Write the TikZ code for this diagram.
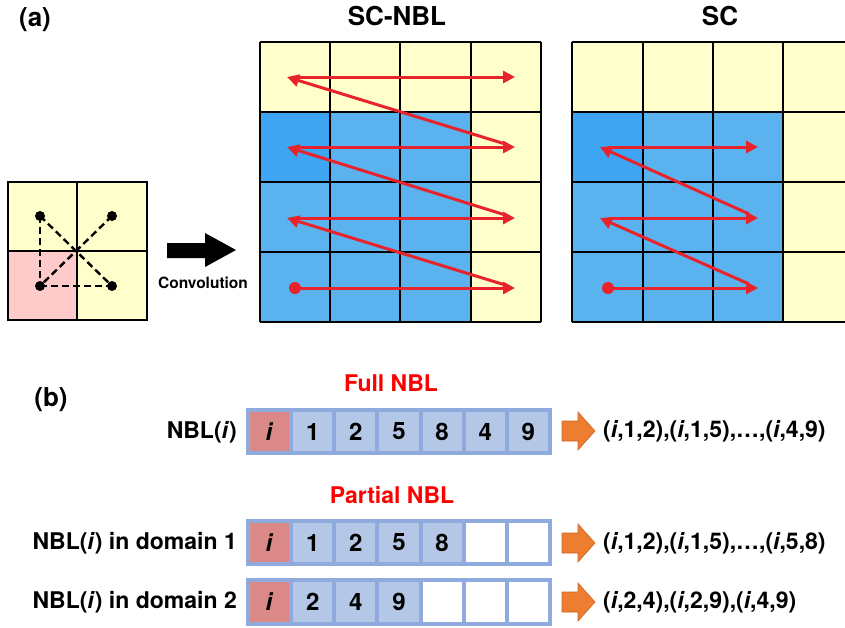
\documentclass[tikz,border=0pt]{standalone}
\usepackage{fontspec}
\setmainfont{TeX Gyre Heros}
\usetikzlibrary{arrows.meta}
\definecolor{cyel}{HTML}{FFFFCC}
\definecolor{cblue}{HTML}{5AB3EE}
\definecolor{cdblue}{HTML}{3DA5F2}
\definecolor{cred}{HTML}{E8232B}
\definecolor{cpinkgrid}{HTML}{FFCACA}
\definecolor{cbord}{HTML}{8FAADC}
\definecolor{ccell}{HTML}{B4C7E7}
\definecolor{cicell}{HTML}{DA8888}
\definecolor{corange}{HTML}{ED7D31}
\definecolor{corangeD}{HTML}{C9661E}
\begin{document}
\begin{tikzpicture}[x=1pt,y=-1pt,
  lab/.style={font=\fontsize{23}{27}\selectfont\bfseries, inner sep=0pt},
  ttl/.style={font=\fontsize{26}{30}\selectfont\bfseries, inner sep=0pt},
  redlab/.style={lab, text=red},
  gridline/.style={draw=black, line width=1.3pt},
  rarr/.style={draw=cred, line width=3pt, -{Triangle[length=12pt,width=12pt]}},
  dashline/.style={draw=black, line width=2.4pt, dash pattern=on 7pt off 4pt},
  celltxt/.style={font=\fontsize{24}{28}\selectfont\bfseries, inner sep=0pt},
  barcell/.style={draw=cbord, line width=4pt},
  orarr/.style={fill=corange, draw=corangeD, line width=0.6pt}
]
\useasboundingbox (0,0) rectangle (845,627);
\clip (0,0) rectangle (845,627);

% ---------- titles ----------
\node[ttl] (ta) at (35,20) {(a)};
\node[ttl] (tb) at (51,400) {(b)};
\node[ttl] (tscnbl) at (397,16) {SC-NBL};
\node[ttl] (tsc) at (720,16) {SC};

% ---------- small grid ----------
\fill[cyel] (8,182) rectangle (147,320);
\fill[cpinkgrid] (8,251) rectangle (77,320);
\draw[gridline] (8,182) rectangle (147,320);
\draw[gridline] (77,182) -- (77,320);
\draw[gridline] (8,251) -- (147,251);
\coordinate (p1) at (40,216);
\coordinate (p2) at (112,216);
\coordinate (p3) at (40,286);
\coordinate (p4) at (112,286);
\draw[dashline] (p1) -- (p3);
\draw[dashline] (p3) -- (p4);
\draw[dashline] (p1) -- (p4);
\draw[dashline] (p2) -- (p3);
\foreach \p in {p1,p2,p3,p4} \fill[black] (\p) circle (5pt);

% ---------- black arrow ----------
\fill[black] (167,243) -- (205,243) -- (205,233) -- (236,250) -- (205,267) -- (205,258) -- (167,258) -- cycle;
\node[font=\fontsize{15.5}{18}\selectfont\bfseries, inner sep=0pt] (conv) at (203,283) {Convolution};

% ---------- SC-NBL grid ----------
\fill[cyel] (260,42) rectangle (541,322);
\fill[cblue] (260,112) rectangle (471,322);
\fill[cdblue] (260,112) rectangle (330,182);
\foreach \x in {260,330,400,471,541} \draw[gridline] (\x,42) -- (\x,322);
\foreach \y in {42,112,182,252,322} \draw[gridline] (260,\y) -- (541,\y);

\coordinate (aL1) at (287,77);  \coordinate (aR1) at (515,77);
\coordinate (aL2) at (287,147); \coordinate (aR2) at (515,147);
\coordinate (aL3) at (287,218); \coordinate (aR3) at (515,218);
\coordinate (aR4) at (515,288); \coordinate (aS) at (295,288);
\fill[cred] (aS) circle (6pt);
\draw[rarr] (aS) -- (aR4);
\draw[rarr, shorten <=10pt] (aR4) -- (aL3);
\draw[rarr, shorten <=8pt] (aL3) -- (aR3);
\draw[rarr, shorten <=10pt] (aR3) -- (aL2);
\draw[rarr, shorten <=8pt] (aL2) -- (aR2);
\draw[rarr, shorten <=10pt] (aR2) -- (aL1);
\draw[rarr, shorten <=8pt] (aL1) -- (aR1);

% ---------- SC grid ----------
\fill[cyel] (572,42) rectangle (853,322);
\fill[cblue] (572,112) rectangle (783,322);
\fill[cdblue] (572,112) rectangle (643,182);
\foreach \x in {572,643,713,783,853} \draw[gridline] (\x,42) -- (\x,322);
\foreach \y in {42,112,182,252,322} \draw[gridline] (572,\y) -- (853,\y);

\coordinate (bL2) at (600,147); \coordinate (bR2) at (758,147);
\coordinate (bL3) at (600,218); \coordinate (bR3) at (758,218);
\coordinate (bR4) at (758,288); \coordinate (bS) at (608,288);
\fill[cred] (bS) circle (6pt);
\draw[rarr] (bS) -- (bR4);
\draw[rarr, shorten <=10pt] (bR4) -- (bL3);
\draw[rarr, shorten <=8pt] (bL3) -- (bR3);
\draw[rarr, shorten <=10pt] (bR3) -- (bL2);
\draw[rarr, shorten <=8pt] (bL2) -- (bR2);

% ---------- (b) NBL bars ----------
\node[redlab] (full) at (391,383) {Full NBL};
\node[redlab] (partial) at (392,495) {Partial NBL};

\def\cw{43.14}
\foreach \bn/\yt/\yb/\entries in {
  A/410/453/{i,1,2,5,8,4,9},
  B/521/564/{i,1,2,5,8,{},{}},
  C/580/624/{i,2,4,9,{},{},{}}} {
  \foreach \e [count=\k from 0] in \entries {
    \pgfmathsetmacro{\xa}{248+\k*\cw}
    \pgfmathsetmacro{\xb}{248+(\k+1)*\cw}
    \ifnum\k=0
      \draw[barcell, fill=cicell] (\xa,\yt) rectangle (\xb,\yb);
      \node[celltxt] (\bn\k) at ({(\xa+\xb)/2},{(\yt+\yb)/2}) {\textit{i}};
    \else
      \ifx\e\empty
        \draw[barcell, fill=white] (\xa,\yt) rectangle (\xb,\yb);
        \node[celltxt] (\bn\k) at ({(\xa+\xb)/2},{(\yt+\yb)/2}) {};
      \else
        \draw[barcell, fill=ccell] (\xa,\yt) rectangle (\xb,\yb);
        \node[celltxt] (\bn\k) at ({(\xa+\xb)/2},{(\yt+\yb)/2}) {\e};
      \fi
    \fi
  }
}

\node[lab, anchor=east] (labA) at (237,432) {NBL(\textit{i})};
\node[lab, anchor=east] (labB) at (237,543) {NBL(\textit{i}) in domain 1};
\node[lab, anchor=east] (labC) at (237,602) {NBL(\textit{i}) in domain 2};

% orange arrows
\foreach \cy in {431,543,602} {
  \fill[orarr] (562,\cy-10) -- (578,\cy-10) -- (578,\cy-19) -- (595,\cy) -- (578,\cy+19) -- (578,\cy+10) -- (562,\cy+10) -- cycle;
}
\node[lab, anchor=west] (resA) at (603,431) {(\textit{i},1,2),(\textit{i},1,5),\ldots,(\textit{i},4,9)};
\node[lab, anchor=west] (resB) at (603,543) {(\textit{i},1,2),(\textit{i},1,5),\ldots,(\textit{i},5,8)};
\node[lab, anchor=west] (resC) at (603,602) {(\textit{i},2,4),(\textit{i},2,9),(\textit{i},4,9)};
\end{tikzpicture}
\end{document}
